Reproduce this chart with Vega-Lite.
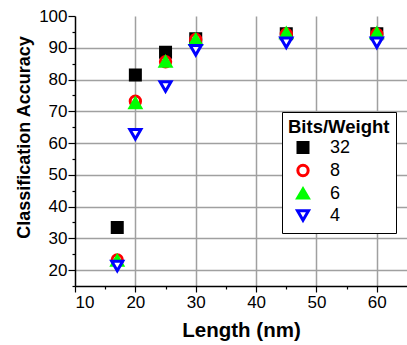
{
  "$schema": "https://vega.github.io/schema/vega-lite/v6.json",
  "width": 332,
  "height": 270,
  "autosize": {"type": "none"},
  "padding": {"left": 75, "top": 16, "right": 0, "bottom": 59},
  "background": "white",
  "config": {
    "font": "Liberation Sans",
    "view": {"stroke": null},
    "legend": {
      "orient": "none", "legendX": 207, "legendY": 96,
      "titleFontSize": 18.5, "titleFontWeight": "bold", "titleColor": "black", "titleAnchor": "start", "titlePadding": 2,
      "labelFontSize": 18, "labelColor": "black", "labelOffset": 18,
      "symbolOffset": 6, "symbolStrokeWidth": 3,
      "rowPadding": 0, "padding": 6,
      "strokeColor": "black", "fillColor": "white"
    }
  },
  "data": {
    "values": [
      {"length": 17, "bits": "32", "acc": 33.4},
      {"length": 20, "bits": "32", "acc": 81.4},
      {"length": 25, "bits": "32", "acc": 88.6},
      {"length": 30, "bits": "32", "acc": 92.8},
      {"length": 45, "bits": "32", "acc": 94.4},
      {"length": 60, "bits": "32", "acc": 94.4},
      {"length": 17, "bits": "8", "acc": 23.2},
      {"length": 20, "bits": "8", "acc": 73.2},
      {"length": 25, "bits": "8", "acc": 85.6},
      {"length": 30, "bits": "8", "acc": 92.6},
      {"length": 45, "bits": "8", "acc": 94.3},
      {"length": 60, "bits": "8", "acc": 94.3},
      {"length": 17, "bits": "6", "acc": 23.0},
      {"length": 20, "bits": "6", "acc": 72.6},
      {"length": 25, "bits": "6", "acc": 85.6},
      {"length": 30, "bits": "6", "acc": 92.6},
      {"length": 45, "bits": "6", "acc": 94.6},
      {"length": 60, "bits": "6", "acc": 94.6},
      {"length": 17, "bits": "4", "acc": 21.3},
      {"length": 20, "bits": "4", "acc": 62.8},
      {"length": 25, "bits": "4", "acc": 77.8},
      {"length": 30, "bits": "4", "acc": 89.2},
      {"length": 45, "bits": "4", "acc": 91.6},
      {"length": 60, "bits": "4", "acc": 91.6}
    ]
  },
  "mark": {"type": "point", "filled": true, "strokeWidth": 3, "opacity": 1},
  "encoding": {
    "x": {
      "field": "length", "type": "quantitative",
      "scale": {"domain": [10, 65], "nice": false, "zero": false},
      "axis": {
        "title": "Length (nm)",
        "titleFont": "Liberation Sans", "titleFontSize": 20.5, "titleFontWeight": "bold", "titleColor": "black", "titlePadding": 10,
        "values": [10, 15, 20, 25, 30, 35, 40, 45, 50, 55, 60],
        "labelExpr": "datum.value % 10 === 0 ? datum.label : ''",
        "labelFontSize": 17, "labelColor": "black", "labelPadding": 2,
        "domainColor": "black", "domainWidth": 1.5,
        "tickColor": "black", "tickWidth": 1.2,
        "tickSize": {"condition": {"test": "datum.value % 10 === 0", "value": 6}, "value": 3},
        "grid": true,
        "gridColor": {"condition": {"test": "datum.value % 10 === 0 && datum.value > 10", "value": "#a0a0a0"}, "value": "transparent"},
        "gridWidth": 1.5, "gridOpacity": 1
      }
    },
    "y": {
      "field": "acc", "type": "quantitative",
      "scale": {"domain": [15, 100], "nice": false, "zero": false},
      "axis": {
        "title": "Classification Accuracy",
        "titleFont": "Liberation Sans", "titleFontSize": 18, "titleFontWeight": "bold", "titleColor": "black", "titlePadding": 5,
        "titleY": 121,
        "values": [15, 20, 25, 30, 35, 40, 45, 50, 55, 60, 65, 70, 75, 80, 85, 90, 95, 100],
        "labelExpr": "datum.value % 10 === 0 ? datum.label : ''",
        "labelFontSize": 17, "labelColor": "black", "labelPadding": 1,
        "domainColor": "black", "domainWidth": 1.5,
        "tickColor": "black", "tickWidth": 1.2,
        "tickSize": {"condition": {"test": "datum.value % 10 === 0", "value": 7}, "value": 3},
        "grid": true,
        "gridColor": {"condition": {"test": "datum.value % 10 === 0 && datum.value < 100", "value": "#a0a0a0"}, "value": "transparent"},
        "gridWidth": 1.5, "gridOpacity": 1
      }
    },
    "shape": {
      "field": "bits", "type": "nominal",
      "scale": {"domain": ["32", "8", "6", "4"], "range": ["square", "circle", "triangle-up", "triangle-down"]},
      "legend": {"title": "Bits/Weight"}
    },
    "size": {
      "field": "bits", "type": "nominal",
      "scale": {"domain": ["32", "8", "6", "4"], "range": [100, 121, 180, 170]},
      "legend": {"title": "Bits/Weight"}
    },
    "fill": {
      "field": "bits", "type": "nominal",
      "scale": {"domain": ["32", "8", "6", "4"], "range": ["black", "white", "#00ff00", "white"]},
      "legend": {"title": "Bits/Weight"}
    },
    "stroke": {
      "field": "bits", "type": "nominal",
      "scale": {"domain": ["32", "8", "6", "4"], "range": ["black", "red", "#00ff00", "blue"]},
      "legend": {"title": "Bits/Weight"}
    }
  }
}
